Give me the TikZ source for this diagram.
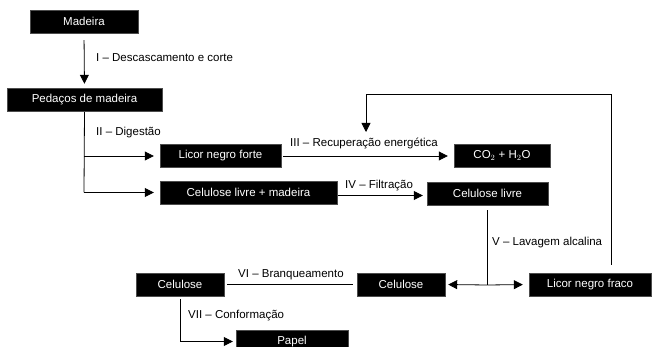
\documentclass[tikz,border=0pt]{standalone}
\usepackage{fontspec}
\setmainfont{Liberation Sans}
\usetikzlibrary{arrows.meta,calc}
\begin{document}
\begin{tikzpicture}[x=1pt,y=-1pt,
  blk/.style={fill=black,draw=black!70,text=white,minimum height=23pt,inner sep=0pt,font=\fontsize{11.5}{13}\selectfont},
  lbl/.style={anchor=west,inner sep=0pt,font=\fontsize{11.5}{13}\selectfont},
  conn/.style={line width=0.8pt},
  arr/.style={line width=0.8pt,-{Triangle[length=9pt,width=9pt]}}]
\useasboundingbox (0,0) rectangle (653,347);
\node[blk,minimum width=108pt] (madeira) at (84,21.5) {Madeira};
\node[blk,minimum width=155pt] (pedacos) at (84.5,99.5) {Pedaços de madeira};
\node[blk,minimum width=121pt] (licorF) at (220.5,156) {Licor negro forte};
\node[blk,minimum width=96pt] (co2) at (502,155.5) {CO$_2$ + H$_2$O};
\node[blk,minimum width=177pt] (celmad) at (248.5,192.5) {Celulose livre + madeira};
\node[blk,minimum width=121pt] (cellivre) at (487.5,193.5) {Celulose livre};
\node[blk,minimum width=88pt] (celL) at (180,284.5) {Celulose};
\node[blk,minimum width=88pt] (celM) at (401,284.5) {Celulose};
\node[blk,minimum width=122pt] (fraco) at (590,284.5) {Licor negro fraco};
\node[blk,minimum width=112pt] (papel) at (292,341.5) {Papel};
% labels
\node[lbl] (l1) at (96,58) {I – Descascamento e corte};
\node[lbl] (l2) at (96,133) {II – Digestão};
\node[lbl] (l3) at (290,143) {III – Recuperação energética};
\node[lbl] (l4) at (345,186) {IV – Filtração};
\node[lbl] (l5) at (492,243) {V – Lavagem alcalina};
\node[lbl] (l6) at (238,275) {VI – Branqueamento};
\node[lbl] (l7) at (188,316) {VII – Conformação};
% connectors
\draw[arr,shorten <=7pt,shorten >=4pt] (madeira.south) -- (pedacos.north);
\coordinate (b1) at (84,156);
\coordinate (b2) at (84,192.5);
\draw[conn,shorten <=1pt] (pedacos.south) -- (b2);
\draw[arr,shorten >=6pt] (b1) -- (licorF.west);
\draw[arr,shorten >=6pt] (b2) -- (celmad.west);
\draw[arr,shorten <=2pt,shorten >=6pt] (licorF.east) -- (co2.west |- licorF.east);
\draw[arr,shorten <=1pt,shorten >=4pt] (celmad.east) ++(0,3) -- ($(cellivre.west)+(0,2)$);
\coordinate (j) at (487.5,285);
\draw[conn,shorten <=5pt] (cellivre.south) -- (j);
\draw[arr,shorten >=3pt] (j) -- (celM.east);
\draw[arr,shorten >=6pt] (j) -- (fraco.west);
\coordinate (fb) at (366,132);
\draw[arr,shorten <=8pt] (611,273) -- (611,94) -- (366,94) -- (fb);
\draw[conn,shorten <=3pt,shorten >=4pt] (celL.east) -- (celM.west);
\draw[arr,shorten <=3pt,shorten >=3pt] (celL.south) -- (180,341.5) -- (papel.west);
\end{tikzpicture}
\end{document}
